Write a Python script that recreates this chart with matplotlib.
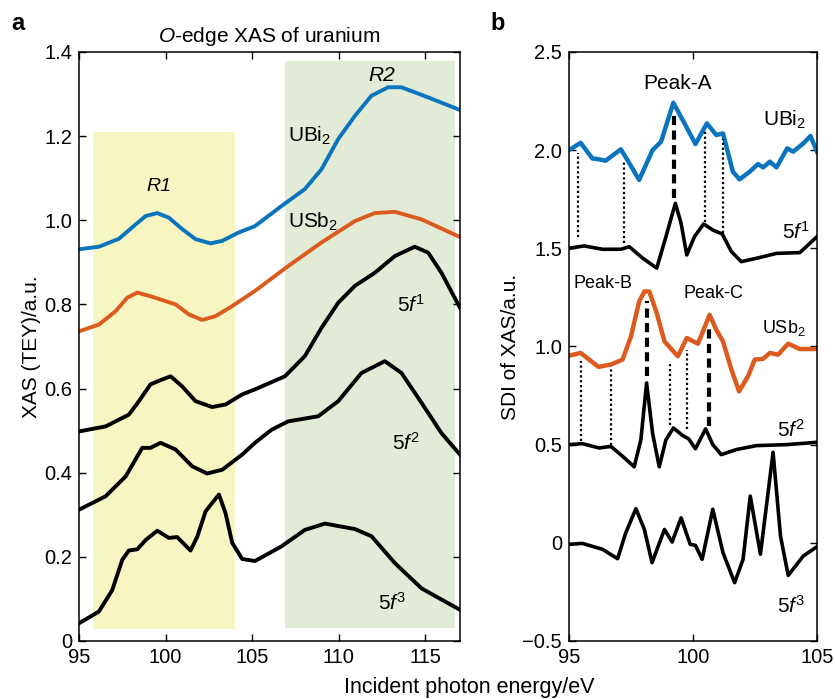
import numpy as np
import matplotlib.pyplot as plt
from matplotlib.ticker import FuncFormatter

plt.rcParams['font.family'] = ['Liberation Sans', 'DejaVu Sans']
plt.rcParams['mathtext.fontset'] = 'custom'
plt.rcParams['mathtext.it'] = 'Liberation Sans:italic'
plt.rcParams['mathtext.rm'] = 'Liberation Sans'

BLUE = '#0a74bf'
ORANGE = '#dc5a1e'

# ---------------- panel a : XAS ----------------
ubi2_x = [95.0, 96.15, 97.31, 98.27, 98.85, 99.52, 100.19, 100.96, 101.73, 102.6, 103.27, 104.23,
          105.16, 106.7, 108.04, 109.0, 109.97, 110.93, 111.89, 112.85, 113.62, 115.16, 117.0]
ubi2_y = [0.931, 0.937, 0.956, 0.990, 1.010, 1.017, 1.006, 0.979, 0.955, 0.945, 0.951, 0.971,
          0.986, 1.034, 1.074, 1.121, 1.193, 1.248, 1.296, 1.316, 1.316, 1.292, 1.262]

usb2_x = [95.0, 96.15, 97.12, 97.79, 98.37, 99.23, 100.58, 101.35, 102.12, 102.88, 103.85,
          105.16, 107.08, 109.0, 110.93, 112.08, 113.24, 114.78, 117.0]
usb2_y = [0.736, 0.752, 0.784, 0.816, 0.828, 0.818, 0.800, 0.776, 0.763, 0.772, 0.796,
          0.832, 0.891, 0.947, 0.998, 1.017, 1.020, 1.002, 0.960]

f1_x = [95.0, 96.54, 97.88, 98.46, 99.13, 99.71, 100.29, 100.96, 101.73, 102.69, 103.46, 104.42,
        105.16, 106.89, 108.04, 109.0, 109.97, 110.93, 112.08, 113.24, 114.39, 115.16, 115.93, 117.0]
f1_y = [0.498, 0.510, 0.538, 0.570, 0.610, 0.620, 0.629, 0.605, 0.570, 0.556, 0.562, 0.586,
        0.598, 0.629, 0.677, 0.744, 0.804, 0.844, 0.875, 0.915, 0.937, 0.923, 0.875, 0.792]

f2_x = [95.0, 96.54, 97.69, 98.65, 99.13, 99.71, 100.58, 101.54, 102.4, 103.27, 104.42,
        105.16, 106.12, 107.08, 108.81, 109.97, 111.31, 112.66, 113.62, 114.78, 115.93, 117.0]
f2_y = [0.312, 0.344, 0.391, 0.459, 0.459, 0.471, 0.455, 0.415, 0.398, 0.407, 0.443,
        0.471, 0.502, 0.522, 0.534, 0.570, 0.637, 0.665, 0.637, 0.566, 0.494, 0.443]

f3_x = [95.0, 96.15, 96.92, 97.5, 97.88, 98.37, 98.85, 99.52, 100.19, 100.67, 101.44, 101.83,
        102.31, 102.69, 103.08, 103.46, 103.85, 104.42, 105.16, 106.7, 108.04, 109.2, 110.93,
        111.89, 113.24, 114.78, 117.0]
f3_y = [0.042, 0.070, 0.121, 0.193, 0.215, 0.218, 0.240, 0.262, 0.245, 0.247, 0.215, 0.248,
        0.308, 0.328, 0.348, 0.304, 0.233, 0.195, 0.190, 0.225, 0.264, 0.279, 0.266,
        0.249, 0.185, 0.125, 0.074]

# ---------------- panel b : SDI ----------------
sdi_ubi2_x = [95.0, 95.47, 95.94, 96.21, 96.48, 97.09, 97.36, 97.83, 98.37, 98.71, 99.21, 99.66,
              100.1, 100.56, 100.94, 101.21, 101.61, 101.88, 102.29, 102.62, 102.83, 103.1,
              103.37, 103.8, 104.04, 104.45, 104.74, 105.0]
sdi_ubi2_y = [2.0, 2.037, 1.958, 1.953, 1.946, 2.004, 1.949, 1.848, 2.0, 2.042, 2.241, 2.136,
              2.031, 2.136, 2.077, 2.085, 1.890, 1.851, 1.890, 1.929, 1.912, 1.941,
              1.912, 2.009, 1.992, 2.034, 2.072, 1.992]

sdi_f1_x = [95.0, 95.61, 96.35, 97.09, 97.43, 97.97, 98.54, 98.91, 99.29, 99.52, 99.75, 100.06,
            100.43, 100.8, 101.18, 101.55, 101.95, 102.56, 103.37, 104.31, 105.0]
sdi_f1_y = [1.5, 1.512, 1.495, 1.495, 1.508, 1.450, 1.399, 1.559, 1.729, 1.628, 1.466, 1.559,
            1.624, 1.593, 1.573, 1.483, 1.432, 1.449, 1.474, 1.478, 1.559]

sdi_usb2_x = [95.0, 95.47, 96.19, 96.69, 97.16, 97.5, 97.83, 98.04, 98.24, 98.54, 98.85, 99.39,
              99.75, 100.2, 100.67, 100.94, 101.21, 101.55, 101.86, 102.22, 102.49, 102.83,
              103.1, 103.43, 103.84, 104.31, 105.0]
sdi_usb2_y = [0.953, 0.967, 0.896, 0.908, 0.933, 1.051, 1.229, 1.280, 1.280, 1.170, 1.026, 0.950,
              1.043, 1.014, 1.161, 1.085, 1.026, 0.882, 0.771, 0.848, 0.933, 0.937,
              0.967, 0.958, 1.014, 0.987, 0.987]

sdi_f2_x = [95.0, 95.54, 96.21, 96.69, 97.16, 97.63, 97.9, 98.13, 98.37, 98.64, 98.91, 99.21,
            99.59, 99.83, 100.1, 100.51, 100.8, 101.14, 101.75, 102.56, 103.77, 105.0]
sdi_f2_y = [0.500, 0.505, 0.483, 0.491, 0.441, 0.387, 0.525, 0.814, 0.559, 0.387, 0.525, 0.585,
            0.546, 0.529, 0.479, 0.580, 0.500, 0.449, 0.475, 0.495, 0.500, 0.512]

sdi_f3_x = [95.0, 95.54, 96.35, 96.96, 97.29, 97.7, 98.04, 98.35, 98.85, 99.16, 99.52, 99.89,
            100.1, 100.37, 100.8, 101.21, 101.68, 102.02, 102.31, 102.72, 103.23, 103.53,
            103.84, 104.45, 105.0]
sdi_f3_y = [-0.008, -0.003, -0.033, -0.081, 0.051, 0.174, 0.068, -0.101, 0.068, 0.004, 0.127,
            -0.008, -0.013, -0.084, 0.171, -0.050, -0.203, -0.084, 0.238, -0.058, 0.461, 0.034,
            -0.166, -0.067, -0.020]

# guide lines (x, y_top, y_bottom)
dotted_x = [95.38, 97.23, 100.5, 101.2, 95.5, 96.69, 99.08, 99.76]
dotted_top = [1.983, 1.949, 2.102, 2.059, 0.924, 0.890, 0.915, 0.983]
dotted_bot = [1.559, 1.525, 1.636, 1.576, 0.517, 0.5, 0.602, 0.58]
dashed_x = [99.25, 98.13, 100.64]
dashed_top = [2.178, 1.229, 1.110]
dashed_bot = [1.754, 0.848, 0.593]


def zero_fmt(v, pos):
    if abs(v) < 1e-9:
        return '0'
    return '%.1f' % v if v >= 0 else '\u2212%.1f' % abs(v)


fig = plt.figure(figsize=(8.35, 6.99), dpi=100)
axa = fig.add_axes([0.0946, 0.083, 0.4563, 0.8427])
axb = fig.add_axes([0.6814, 0.083, 0.2970, 0.8427])

# panel a
axa.fill_between([95.8, 104.0], 0.029, 1.21, color='#f7f6c2', lw=0, zorder=0)
axa.fill_between([106.9, 116.7], 0.032, 1.379, color='#e2ebd6', lw=0, zorder=0)
lw = 2.8
axa.plot(ubi2_x, ubi2_y, color=BLUE, lw=lw, solid_joinstyle='round')
axa.plot(usb2_x, usb2_y, color=ORANGE, lw=lw, solid_joinstyle='round')
for xs, ys in [(f1_x, f1_y), (f2_x, f2_y), (f3_x, f3_y)]:
    axa.plot(xs, ys, color='black', lw=lw, solid_joinstyle='round')

axa.set_xlim(95, 117)
axa.set_ylim(0, 1.4)
axa.set_xticks([95, 100, 105, 110, 115])
axa.set_yticks(np.arange(0, 1.41, 0.2))
axa.yaxis.set_major_formatter(FuncFormatter(zero_fmt))
axa.set_ylabel('XAS (TEY)/a.u.', fontsize=15, labelpad=2)
axa.set_title(r'$O$-edge XAS of uranium', fontsize=15, pad=7)

fs = 15
axa.text(99.6, 1.079, 'R1', style='italic', fontsize=14, ha='center', va='center')
axa.text(112.5, 1.345, 'R2', style='italic', fontsize=fs, ha='center', va='center')
axa.text(108.3, 1.20, r'UBi$_2$', fontsize=fs, ha='center', va='center')
axa.text(108.5, 0.995, r'USb$_2$', fontsize=fs, ha='center', va='center')
axa.text(114.2, 0.80, r'5$f^1$', fontsize=fs, ha='center', va='center')
axa.text(113.9, 0.47, r'5$f^2$', fontsize=fs, ha='center', va='center')
axa.text(113.1, 0.09, r'5$f^3$', fontsize=fs, ha='center', va='center')

# panel b
axb.plot(sdi_ubi2_x, sdi_ubi2_y, color=BLUE, lw=3.2, solid_joinstyle='round')
axb.plot(sdi_usb2_x, sdi_usb2_y, color=ORANGE, lw=3.2, solid_joinstyle='round')
for xs, ys in [(sdi_f1_x, sdi_f1_y), (sdi_f2_x, sdi_f2_y), (sdi_f3_x, sdi_f3_y)]:
    axb.plot(xs, ys, color='black', lw=2.6, solid_joinstyle='round')
for x, t, b in zip(dotted_x, dotted_top, dotted_bot):
    axb.plot([x, x], [b, t], color='black', lw=1.6, ls=(0, (1, 1.2)))
for x, t, b in zip(dashed_x, dashed_top, dashed_bot):
    axb.plot([x, x], [b, t], color='black', lw=3, ls=(0, (2.2, 1.3)))

axb.set_xlim(95, 105)
axb.set_ylim(-0.5, 2.5)
axb.set_xticks([95, 100, 105])
axb.set_yticks(np.arange(-0.5, 2.51, 0.5))
axb.yaxis.set_major_formatter(FuncFormatter(zero_fmt))
axb.set_ylabel('SDI of XAS/a.u.', fontsize=15, labelpad=2)

axb.text(99.36, 2.339, 'Peak-A', fontsize=15, ha='center', va='center')
axb.text(103.68, 2.152, r'UBi$_2$', fontsize=fs, ha='center', va='center')
axb.text(104.15, 1.585, r'5$f^1$', fontsize=fs, ha='center', va='center')
axb.text(96.39, 1.322, 'Peak-B', fontsize=13, ha='center', va='center')
axb.text(100.84, 1.268, 'Peak-C', fontsize=13, ha='center', va='center')
axb.text(103.68, 1.093, r'USb$_2$', fontsize=13, ha='center', va='center')
axb.text(103.95, 0.576, r'5$f^2$', fontsize=fs, ha='center', va='center')
axb.text(103.95, -0.322, r'5$f^3$', fontsize=fs, ha='center', va='center')

for ax in (axa, axb):
    ax.tick_params(direction='in', top=True, right=True, labelsize=14.5, length=5, width=1, pad=5)
    for s in ax.spines.values():
        s.set_linewidth(1.1)

fig.text(0.014, 0.966, 'a', fontsize=17, fontweight='bold', ha='left', va='center')
fig.text(0.587, 0.966, 'b', fontsize=17, fontweight='bold', ha='left', va='center')
fig.text(0.562, 0.016, 'Incident photon energy/eV', fontsize=15.5, ha='center', va='center')

fig.savefig('out.png', dpi=100)
